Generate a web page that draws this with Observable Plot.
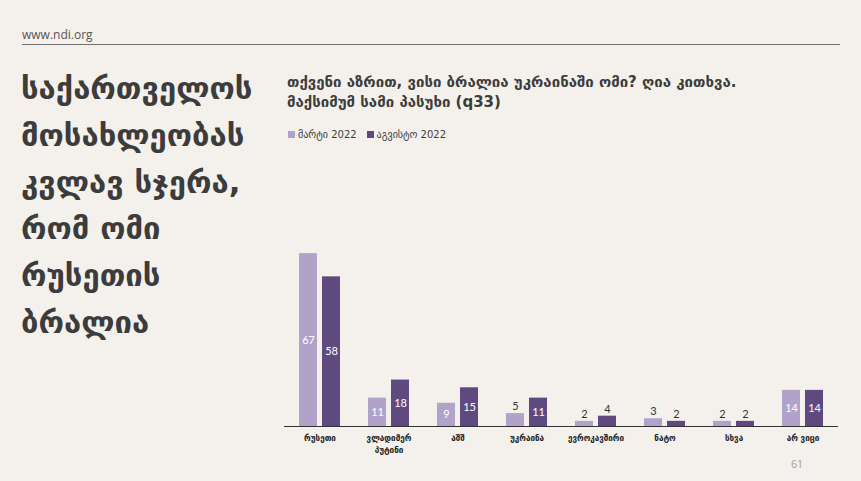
<!DOCTYPE html>
<html>
<head>
<meta charset="utf-8">
<script src="https://cdn.jsdelivr.net/npm/d3@7"></script>
<script src="https://cdn.jsdelivr.net/npm/@observablehq/plot@0.6"></script>
<style>
  html, body { margin:0; padding:0; background:#f4f1ec; }
  body { width:861px; height:481px; position:relative; overflow:hidden; font-family:"DejaVu Sans", sans-serif; }
  .abs { position:absolute; }
  #site { left:22px; top:26px; font-family:"Open Sans", sans-serif; font-size:12px; color:#555; }
  #rule { left:22px; top:44px; width:818px; height:0; border-top:1.5px solid #707070; }
  #bigtitle { left:21px; top:65px; font-size:31px; font-weight:bold; line-height:46.8px; color:#3c3c3c; }
  #ctitle { left:287px; top:72px; font-size:15px; font-weight:bold; line-height:20px; color:#3c3c3c; white-space:nowrap; }
  #legend { left:288px; top:129px; font-size:10px; color:#3c3c3c; display:flex; gap:10px; }
  #legend span.sw { display:inline-block; width:7px; height:7px; margin-right:3px; vertical-align:0px; }
  #chart { left:270px; top:150px; }
  #page { left:791px; top:457px; font-family:"Open Sans", sans-serif; font-size:10.5px; color:#a0a0a0; }
</style>
</head>
<body>
<div id="site" class="abs">www.ndi.org</div>
<div id="rule" class="abs"></div>
<div id="bigtitle" class="abs"></div>
<div id="ctitle" class="abs"></div>
<div id="legend" class="abs"></div>
<div id="chart" class="abs"></div>
<div id="page" class="abs">61</div>
<script>
const headline = ["საქართველოს", "მოსახლეობას", "კვლავ სჯერა,", "რომ ომი", "რუსეთის", "ბრალია"];
const chartTitle = ["თქვენი აზრით, ვისი ბრალია უკრაინაში ომი? ღია კითხვა.", "მაქსიმუმ სამი პასუხი (q33)"];
const categories = ["რუსეთი", "ვლადიმერ\nპუტინი", "აშშ", "უკრაინა", "ევროკავშირი", "ნატო", "სხვა", "არ ვიცი"];
const seriesNames = ["მარტი 2022", "აგვისტო 2022"];
const march2022 = [67, 11, 9, 5, 2, 3, 2, 14];
const august2022 = [58, 18, 15, 11, 4, 2, 2, 14];
const seriesColors = ["#b1a2c9", "#5f4a7f"];

document.getElementById("bigtitle").innerHTML = headline.join("<br>");
document.getElementById("ctitle").innerHTML = chartTitle.join("<br>");
document.getElementById("legend").innerHTML = seriesNames.map((s, i) =>
  `<span><span class="sw" style="background:${seriesColors[i]}"></span>${s}</span>`).join("");

const data = [];
categories.forEach((c, i) => {
  data.push({category: c, series: seriesNames[0], value: march2022[i]});
  data.push({category: c, series: seriesNames[1], value: august2022[i]});
});

const chart = Plot.plot({
  width: 580,
  height: 310,
  marginLeft: 12,
  marginRight: 10,
  marginTop: 18,
  marginBottom: 34,
  style: {background: "transparent", fontFamily: "DejaVu Sans Condensed, DejaVu Sans, sans-serif"},
  fx: {domain: categories, paddingInner: 0.38, paddingOuter: 0.19, label: null},
  x: {domain: seriesNames, paddingInner: 0.2, paddingOuter: 0, axis: null},
  y: {domain: [0, 100], axis: null},
  color: {domain: seriesNames, range: seriesColors},
  marks: [
    Plot.axisFx({anchor: "bottom", label: null, tickSize: 0, tickPadding: 6, fontWeight: "bold", fontSize: 9, lineHeight: 1.3, fill: "#222"}),
    Plot.barY(data, {fx: "category", x: "series", y: "value", fill: "series"}),
    Plot.ruleY([0], {stroke: "#333", strokeWidth: 1.2, insetLeft: -14, insetRight: -14}),
    Plot.text(data.filter(d => d.value >= 9), {fx: "category", x: "series", y: d => d.value / 2, text: "value", fill: "white", fontSize: 11, fontFamily: "Lato, sans-serif"}),
    Plot.text(data.filter(d => d.value < 9), {fx: "category", x: "series", y: "value", text: "value", fill: "#333", dy: -7, fontSize: 11, fontFamily: "Lato, sans-serif"})
  ]
});
document.getElementById("chart").appendChild(chart);
</script>
</body>
</html>
